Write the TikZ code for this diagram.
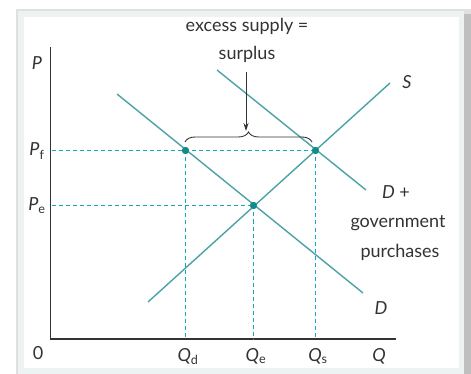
\documentclass[tikz,border=0pt]{standalone}
\usepackage{fontspec}
\setmainfont{Lato}
\usetikzlibrary{decorations.pathreplacing,arrows.meta}
\definecolor{curve}{HTML}{4AA3A6}
\definecolor{dotc}{HTML}{118C8A}
\definecolor{dashc}{HTML}{14A8B8}
\definecolor{ink}{HTML}{333333}
\definecolor{framec}{HTML}{EDF2F2}
\tikzset{
  curveline/.style={curve, line width=1.4pt},
  guide/.style={dashc, dash pattern=on 4pt off 3pt, line width=1.2pt},
  axis/.style={ink, line width=1.5pt},
  dotn/.style={circle, fill=dotc, inner sep=0pt, minimum size=7pt},
  lbl/.style={text=ink, font=\fontsize{18}{21}\selectfont, inner sep=0pt},
}
\begin{document}
\begin{tikzpicture}[x=1pt,y=-1pt]
\useasboundingbox (0,0) rectangle (471,374);
% frame with shadow
\fill[black!12] (16,9) rectangle (471,374);
\fill[black!25] (464,14) rectangle (471,374);
\fill[framec] (18,11) rectangle (464,374);
\fill[white] (24,17) rectangle (459,368);
% axes
\coordinate (top) at (50.5,47);
\coordinate (orig) at (50.5,339);
\coordinate (right) at (396,339);
\draw[axis] (top) -- (orig) -- (right);
% equilibrium / floor points
\node[dotn] (pd) at (185.5,150.5) {};
\node[dotn] (ps) at (315.5,150.5) {};
\node[dotn] (pe) at (253.5,205.5) {};
% axis foot coordinates
\coordinate (fd) at (185.5,339);
\coordinate (fe) at (253.5,339);
\coordinate (fs) at (315.5,339);
\coordinate (lf) at (52,150.5);
\coordinate (le) at (52,205.5);
% guides
\draw[guide] (lf) -- (pd.center) -- (ps.center);
\draw[guide] (le) -- (pe.center);
\draw[guide] (pd.center) -- (fd);
\draw[guide] (pe.center) -- (fe);
\draw[guide] (ps.center) -- (fs);
% curves
\coordinate (d1) at (117,94);
\coordinate (d2) at (363,293);
\coordinate (s1) at (148,302);
\coordinate (s2) at (390,83);
\coordinate (g1) at (217,70);
\coordinate (g2) at (366,190);
\draw[curveline] (d1) -- (d2);
\draw[curveline] (s1) -- (s2);
\draw[curveline] (g1) -- (g2);
\node[dotn] at (pd) {};
\node[dotn] at (ps) {};
\node[dotn] at (pe) {};
% brace and arrow
\coordinate (b1) at (185,142);
\coordinate (b2) at (312,142);
\draw[ink, line width=0.9pt, decorate, decoration={brace, amplitude=10pt, raise=0pt}] (b1) -- (b2);
\node[lbl, anchor=base] (ex1) at (247,32) {excess supply =};
\node[lbl, anchor=base] (ex2) at (247,60) {surplus};
\coordinate (tip) at (246,131);
\draw[ink, line width=0.9pt, -{Stealth[length=8pt,width=5pt]}] (246,72) -- (tip);
% labels
\node[lbl, anchor=base] (lP) at (37,70) {\itshape P};
\node[lbl, anchor=base] (lPf) at (37,156) {\itshape P\textsubscript{\upshape f}};
\node[lbl, anchor=base] (lPe) at (37,211) {\itshape P\textsubscript{\upshape e}};
\node[lbl, anchor=base] (l0) at (38,359) {0};
\node[lbl, anchor=base] (lQd) at (188,361) {\itshape Q\textsubscript{\upshape d}};
\node[lbl, anchor=base] (lQe) at (256,361) {\itshape Q\textsubscript{\upshape e}};
\node[lbl, anchor=base] (lQs) at (318,361) {\itshape Q\textsubscript{\upshape s}};
\node[lbl, anchor=base] (lQ) at (379,361) {\itshape Q};
\node[lbl, anchor=base] (lS) at (407,89) {\itshape S};
\node[lbl, anchor=base] (lDp) at (396,199) {\itshape D\upshape\ +};
\node[lbl, anchor=base] (lgov) at (398,228) {government};
\node[lbl, anchor=base] (lpur) at (400,257) {purchases};
\node[lbl, anchor=base] (lD) at (381,314) {\itshape D};
\end{tikzpicture}
\end{document}
